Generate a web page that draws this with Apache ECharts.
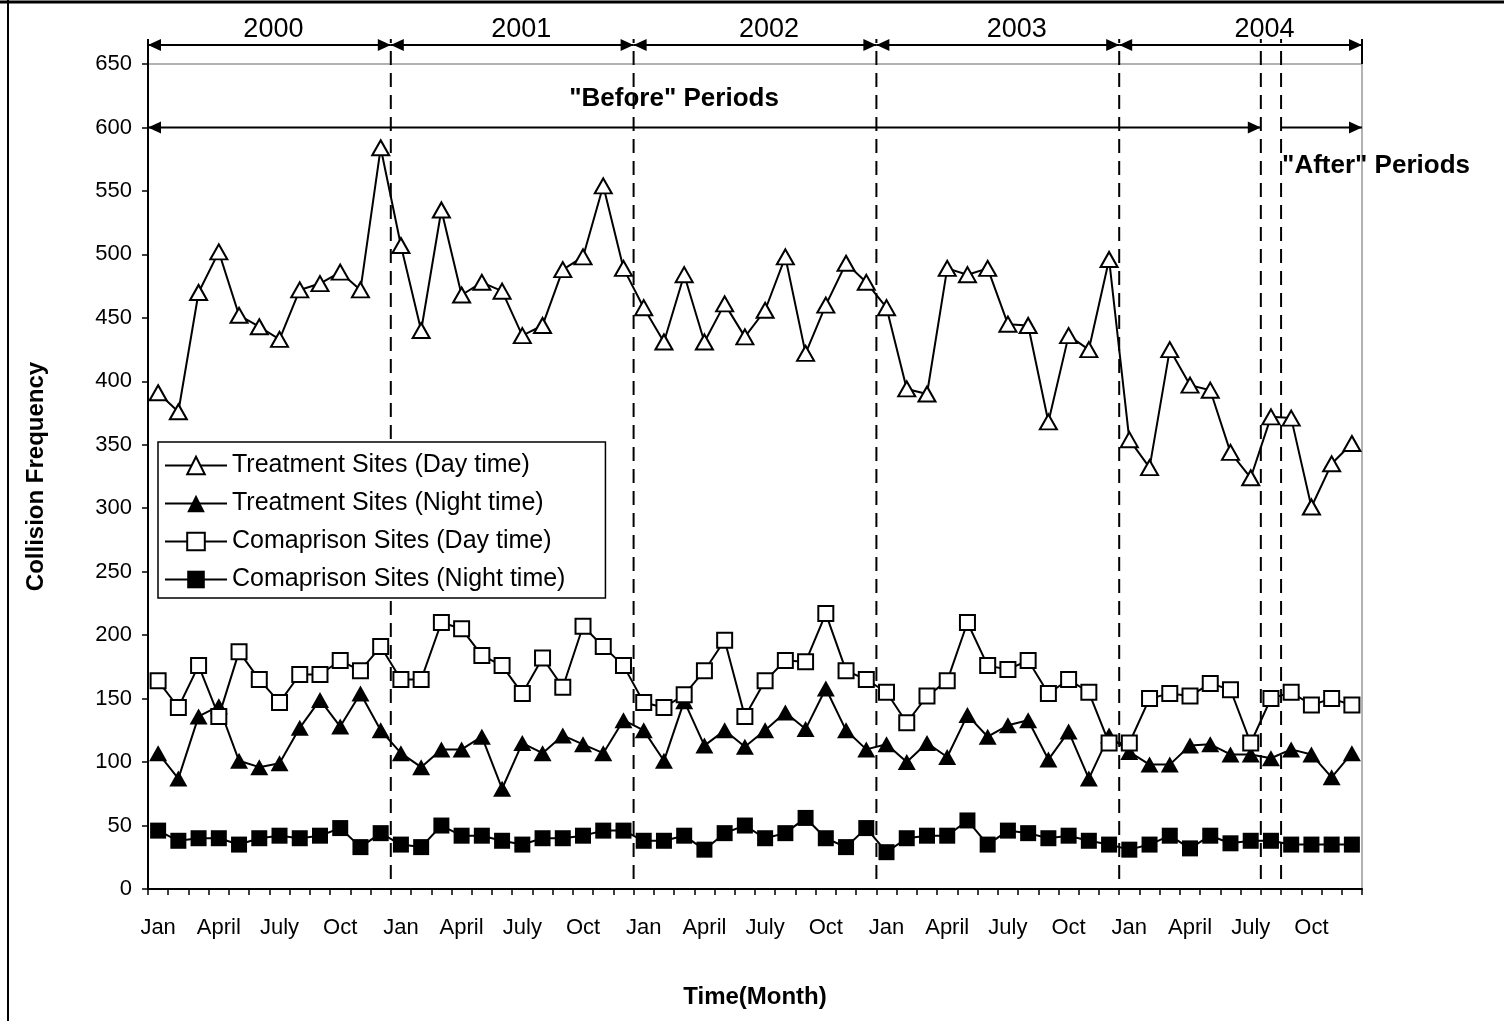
<!DOCTYPE html>
<html>
<head>
<meta charset="utf-8">
<script src="https://cdn.jsdelivr.net/npm/echarts@6/dist/echarts.min.js"></script>
<style>
  html, body { margin: 0; padding: 0; background: #fff; }
  #chart { width: 1504px; height: 1021px; }
</style>
</head>
<body>
<div id="chart"></div>
<script>
// months & years
const years = [2000, 2001, 2002, 2003, 2004]
const monthNames = ['Jan', 'Feb', 'Mar', 'April', 'May', 'June', 'July', 'Aug', 'Sep', 'Oct', 'Nov', 'Dec']
const tickLabels = ['Jan', 'April', 'July', 'Oct']
const categories = years.flatMap((y) => monthNames.map((m) => m + ' ' + y))

const seriesNames = [
  'Treatment Sites (Day time)',
  'Treatment Sites (Night time)',
  'Comaprison Sites (Day time)',
  'Comaprison Sites (Night time)'
]

const treatDay = [
  391, 376, 470, 502, 452, 443, 433, 472, 477, 486, 472, 584,
  507, 440, 535, 468, 478, 471, 436, 444, 488, 498, 554, 489,
  458, 431, 484, 431, 461, 435, 456, 498, 422, 460, 493, 478,
  458, 394, 390, 489, 484, 489, 445, 444, 368, 436, 425, 496,
  354, 332, 425, 397, 393, 344, 324, 372, 371, 301, 335, 351
]
const treatNight = [
  107, 87, 136, 144, 101, 96, 99, 127, 149, 128, 154, 125,
  107, 96, 110, 110, 120, 79, 115, 107, 121, 114, 107, 133,
  125, 101, 148, 113, 125, 112, 125, 139, 126, 158, 125, 110,
  114, 100, 115, 104, 137, 120, 129, 133, 102, 124, 87, 121,
  108, 98, 98, 113, 114, 106, 106, 103, 110, 106, 88, 107
]
const compDay = [
  164, 143, 176, 136, 187, 165, 147, 169, 169, 180, 172, 191,
  165, 165, 210, 205, 184, 176, 154, 182, 159, 207, 191, 176,
  147, 143, 153, 172, 196, 136, 164, 180, 179, 217, 172, 165,
  155, 131, 152, 164, 210, 176, 173, 180, 154, 165, 155, 115,
  115, 150, 154, 152, 162, 157, 115, 150, 155, 145, 150, 145
]
const compNight = [
  46, 38, 40, 40, 35, 40, 42, 40, 42, 48, 33, 44,
  35, 33, 50, 42, 42, 38, 35, 40, 40, 42, 46, 46,
  38, 38, 42, 31, 44, 50, 40, 44, 56, 40, 33, 48,
  29, 40, 42, 42, 54, 35, 46, 44, 40, 42, 38, 35,
  31, 35, 42, 32, 42, 36, 38, 38, 35, 35, 35, 35
]

// period boundaries (in months from Jan 2000)
const yearBounds = [0, 12, 24, 36, 48, 60]
const dashedBounds = [12, 24, 36, 48, 55, 56]
const beforeSpan = [0, 55]
const afterSpan = [56, 60]

const FONT = "'Liberation Sans Narrow', 'Liberation Sans', Arial, sans-serif"
const BOLD = "'Liberation Sans', Arial, sans-serif"

const chart = echarts.init(document.getElementById('chart'))

const lineSeries = (name, data, symbol, filled, size) => ({
  name,
  type: 'line',
  data,
  symbol,
  symbolSize: size,
  showAllSymbol: true,
  xAxisIndex: 0,
  yAxisIndex: 0,
  lineStyle: { color: '#000', width: 2 },
  itemStyle: {
    color: filled ? '#000' : '#fff',
    borderColor: '#000',
    borderWidth: filled ? 0 : 2
  },
  emphasis: { disabled: true },
  animation: false
})

chart.setOption({
  backgroundColor: '#fff',
  animation: false,
  grid: {
    left: 148,
    right: 142,
    top: 64,
    bottom: 132,
    show: true,
    borderColor: '#999',
    borderWidth: 1.5
  },
  legend: {
    orient: 'vertical',
    left: 158,
    top: 442,
    z: 20,
    data: seriesNames,
    itemWidth: 62,
    itemHeight: 22,
    itemGap: 13,
    padding: [11, 40, 6, 6],
    borderColor: '#000',
    borderWidth: 1.5,
    backgroundColor: '#fff',
    textStyle: { fontFamily: FONT, fontSize: 25, color: '#000' }
  },
  xAxis: [
    {
      type: 'category',
      data: categories,
      boundaryGap: true,
      name: 'Time(Month)',
      nameLocation: 'middle',
      nameGap: 96,
      nameTextStyle: { fontFamily: BOLD, fontWeight: 'bold', fontSize: 24, color: '#000' },
      axisLine: { lineStyle: { color: '#000', width: 2 } },
      axisTick: { show: true, interval: 0, length: 6, lineStyle: { color: '#000', width: 1.5 } },
      axisLabel: {
        interval: 0,
        margin: 28,
        fontFamily: FONT,
        fontSize: 22,
        color: '#000',
        formatter: (v) => {
          const m = v.split(' ')[0]
          return tickLabels.includes(m) ? m : ''
        }
      },
      splitLine: { show: false }
    },
    {
      type: 'value',
      min: 0,
      max: 60,
      show: false
    }
  ],
  yAxis: {
    type: 'value',
    min: 0,
    max: 650,
    interval: 50,
    name: 'Collision Frequency',
    nameLocation: 'middle',
    nameRotate: 90,
    nameGap: 100,
    nameTextStyle: { fontFamily: BOLD, fontWeight: 'bold', fontSize: 24, color: '#000' },
    axisLine: { show: true, lineStyle: { color: '#000', width: 2 } },
    axisTick: { show: true, length: 6, lineStyle: { color: '#000', width: 1.5 } },
    axisLabel: { fontFamily: FONT, fontSize: 22, color: '#000', margin: 16 },
    splitLine: { show: false }
  },
  series: [
    lineSeries(seriesNames[0], treatDay, 'triangle', false, [17, 15]),
    lineSeries(seriesNames[1], treatNight, 'triangle', true, [18, 16]),
    lineSeries(seriesNames[2], compDay, 'rect', false, [15, 15]),
    lineSeries(seriesNames[3], compNight, 'rect', true, [16, 16])
  ]
})

// annotations: dashed period lines, arrows and labels
const px = (m, v) => chart.convertToPixel({ xAxisIndex: 1, yAxisIndex: 0 }, [m, v])

const arrowHead = (x, y, dir) => ({
  type: 'polygon',
  shape: { points: [[x, y], [x - dir * 13, y - 6], [x - dir * 13, y + 6]] },
  style: { fill: '#000' },
  z: 100
})
const hLine = (x1, x2, y) => ({
  type: 'line',
  shape: { x1, y1: y, x2, y2: y },
  style: { stroke: '#000', lineWidth: 2 },
  z: 100
})

const graphics = []
const topY = px(0, 650)[1]
const zeroY = px(0, 0)[1]
const yearArrowY = topY - 19
const beforeY = px(0, 600)[1]

// outer frame
graphics.push({ type: 'line', shape: { x1: 0, y1: 2, x2: 1504, y2: 2 }, style: { stroke: '#000', lineWidth: 3 } })
graphics.push({ type: 'line', shape: { x1: 8, y1: 0, x2: 8, y2: 1021 }, style: { stroke: '#000', lineWidth: 2 } })

dashedBounds.forEach((m) => {
  const x = px(m, 0)[0]
  graphics.push({
    type: 'line',
    shape: { x1: x, y1: zeroY - 10, x2: x, y2: yearArrowY - 6 },
    style: { stroke: '#000', lineWidth: 2, lineDash: [14, 8] },
    z: 1
  })
})

// vertical stubs at plot edges above the top border
const leftX = px(0, 0)[0]
const rightX = px(60, 0)[0]
graphics.push({ type: 'line', shape: { x1: leftX, y1: yearArrowY - 6, x2: leftX, y2: topY }, style: { stroke: '#000', lineWidth: 2 } })
graphics.push({ type: 'line', shape: { x1: rightX, y1: yearArrowY - 6, x2: rightX, y2: topY }, style: { stroke: '#000', lineWidth: 2 } })

for (let i = 0; i < years.length; i++) {
  const x1 = px(yearBounds[i], 0)[0]
  const x2 = px(yearBounds[i + 1], 0)[0]
  graphics.push(hLine(x1, x2, yearArrowY))
  graphics.push(arrowHead(x1, yearArrowY, -1))
  graphics.push(arrowHead(x2, yearArrowY, 1))
  graphics.push({
    type: 'text',
    x: (x1 + x2) / 2 + 4 + i * 5,
    y: yearArrowY - 2,
    style: {
      text: String(years[i]),
      fontFamily: FONT,
      fontSize: 27,
      fill: '#000',
      align: 'center',
      verticalAlign: 'bottom'
    },
    z: 100
  })
}

// "Before" arrow
{
  const x1 = px(beforeSpan[0], 0)[0]
  const x2 = px(beforeSpan[1], 0)[0]
  graphics.push(hLine(x1, x2, beforeY))
  graphics.push(arrowHead(x1, beforeY, -1))
  graphics.push(arrowHead(x2, beforeY, 1))
  graphics.push({
    type: 'text',
    x: px(26.0, 0)[0],
    y: beforeY - 29,
    style: {
      text: '"Before" Periods',
      fontFamily: BOLD,
      fontWeight: 'bold',
      fontSize: 26,
      fill: '#000',
      align: 'center',
      verticalAlign: 'middle'
    },
    z: 100
  })
}

// "After" arrow
{
  const x1 = px(afterSpan[0], 0)[0]
  const x2 = px(afterSpan[1], 0)[0]
  graphics.push(hLine(x1, x2, beforeY))
  graphics.push(arrowHead(x2, beforeY, 1))
  graphics.push({
    type: 'text',
    x: x1 + 1,
    y: px(0, 570)[1],
    style: {
      text: '"After" Periods',
      fontFamily: BOLD,
      fontWeight: 'bold',
      fontSize: 26,
      fill: '#000',
      align: 'left',
      verticalAlign: 'middle'
    },
    z: 100
  })
}

chart.setOption({ graphic: graphics })
</script>
</body>
</html>
